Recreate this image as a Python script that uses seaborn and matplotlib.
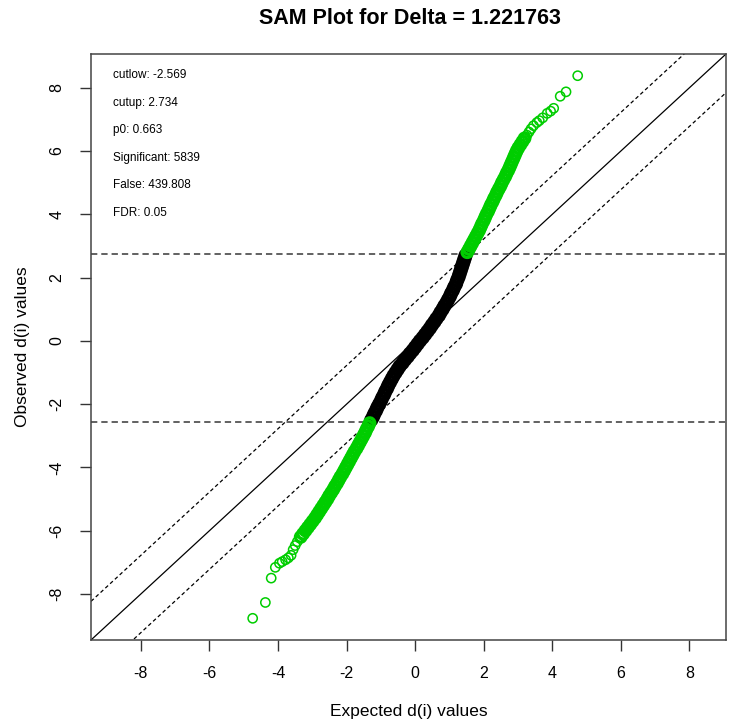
import numpy as np
import pandas as pd
import matplotlib
matplotlib.use("Agg")
import matplotlib.pyplot as plt
import seaborn as sns

# ---- data ----
delta = 1.221763
cutlow = -2.569
cutup = 2.734
info_labels = ["cutlow: -2.569", "cutup: 2.734", "p0: 0.663",
               "Significant: 5839", "False: 439.808", "FDR: 0.05"]

# lower significant tail (expected, observed)
low_tail_x = [-4.74, -4.37, -4.20, -4.08, -3.96, -3.88, -3.78, -3.70, -3.62, -3.56, -3.50, -3.44]
low_tail_y = [-8.77, -8.27, -7.50, -7.16, -7.03, -6.98, -6.92, -6.86, -6.78, -6.60, -6.47, -6.35]

# lower significant dense band
low_y = [-6.2, -6.1, -6.0, -5.9, -5.8, -5.7, -5.6, -5.5, -5.4, -5.3, -5.2, -5.1, -5.0,
         -4.9, -4.8, -4.7, -4.6, -4.5, -4.4, -4.3, -4.2, -4.1, -4.0, -3.9, -3.8, -3.7,
         -3.6, -3.5, -3.4, -3.3, -3.2, -3.1, -3.0, -2.9, -2.8, -2.7, -2.6]
low_x = [-3.34, -3.27, -3.20, -3.13, -3.06, -2.99, -2.92, -2.86, -2.80, -2.74, -2.68, -2.62, -2.56,
         -2.51, -2.45, -2.39, -2.34, -2.28, -2.23, -2.18, -2.12, -2.07, -2.02, -1.97, -1.92, -1.87,
         -1.82, -1.77, -1.71, -1.66, -1.61, -1.56, -1.51, -1.46, -1.42, -1.37, -1.33]

# non-significant band
mid_y = [-2.5, -2.4, -2.3, -2.2, -2.1, -2.0, -1.9, -1.8, -1.7, -1.6, -1.5, -1.4, -1.3, -1.2,
         -1.1, -1.0, -0.9, -0.8, -0.7, -0.6, -0.5, -0.4, -0.3, -0.2, -0.1, 0.0, 0.1, 0.2,
         0.3, 0.4, 0.5, 0.6, 0.7, 0.8, 0.9, 1.0, 1.1, 1.2, 1.3, 1.4, 1.5, 1.6, 1.7, 1.8,
         1.9, 2.0, 2.1, 2.2, 2.3, 2.4, 2.5, 2.6, 2.7]
mid_x = [-1.28, -1.23, -1.19, -1.14, -1.10, -1.05, -1.00, -0.96, -0.91, -0.87, -0.82, -0.78, -0.73, -0.68,
         -0.63, -0.57, -0.51, -0.45, -0.37, -0.30, -0.22, -0.15, -0.07, 0.00, 0.07, 0.14, 0.22, 0.29,
         0.36, 0.43, 0.49, 0.56, 0.62, 0.69, 0.74, 0.80, 0.85, 0.91, 0.96, 1.01, 1.05, 1.10, 1.14, 1.19,
         1.22, 1.26, 1.29, 1.32, 1.35, 1.38, 1.41, 1.44, 1.47]

# upper significant dense band
up_y = [2.8, 2.9, 3.0, 3.1, 3.2, 3.3, 3.4, 3.5, 3.6, 3.7, 3.8, 3.9, 4.0, 4.1, 4.2, 4.3, 4.4,
        4.5, 4.6, 4.7, 4.8, 4.9, 5.0, 5.1, 5.2, 5.3, 5.4, 5.5, 5.6, 5.7, 5.8, 5.9, 6.0,
        6.1, 6.2, 6.3, 6.4]
up_x = [1.52, 1.57, 1.62, 1.67, 1.72, 1.77, 1.82, 1.87, 1.91, 1.95, 2.00, 2.04, 2.08, 2.13, 2.17, 2.21, 2.26,
        2.30, 2.35, 2.39, 2.44, 2.49, 2.53, 2.58, 2.63, 2.67, 2.72, 2.76, 2.80, 2.84, 2.88, 2.92, 2.96,
        3.01, 3.07, 3.13, 3.19]

# upper significant tail
up_tail_x = [3.26, 3.32, 3.38, 3.45, 3.55, 3.62, 3.72, 3.85, 3.95, 4.04, 4.23, 4.40, 4.74]
up_tail_y = [6.50, 6.60, 6.70, 6.80, 6.90, 6.96, 7.05, 7.19, 7.26, 7.35, 7.73, 7.87, 8.38]

ticks = [-8, -6, -4, -2, 0, 2, 4, 6, 8]

# ---- build tables ----
df_tail = pd.DataFrame({"expected": low_tail_x + up_tail_x, "observed": low_tail_y + up_tail_y})
df_band = pd.DataFrame({"expected": low_x + up_x, "observed": low_y + up_y})
df_mid = pd.DataFrame({"expected": mid_x, "observed": mid_y})

sns.set_style("white")
plt.rcParams["font.family"] = ["Liberation Sans", "DejaVu Sans"]
plt.rcParams["text.color"] = "black"
plt.rcParams["axes.labelcolor"] = "black"
plt.rcParams["xtick.color"] = "black"
plt.rcParams["ytick.color"] = "black"

W, H = 733, 727
fig = plt.figure(figsize=(W / 100, H / 100), dpi=100)
ax = fig.add_axes([91 / W, (H - 640) / H, (726 - 91) / W, (640 - 54) / H])

allv = np.array(low_tail_x + up_tail_x + low_tail_y + up_tail_y + low_x + up_x + low_y + up_y + mid_x + mid_y)
lo, hi = allv.min(), allv.max()
pad = 0.04 * (hi - lo)
lim = (lo - pad, hi + pad)
ax.set_xlim(lim)
ax.set_ylim(lim)

# reference lines
xs = np.array(lim)
ax.plot(xs, xs, color="black", lw=0.9, zorder=1)
ax.plot(xs, xs + delta, color="black", lw=0.9, ls=(0, (3, 2.2)), zorder=1)
ax.plot(xs, xs - delta, color="black", lw=0.9, ls=(0, (3, 2.2)), zorder=1)
ax.axhline(cutup, color="#555555", lw=1.3, ls=(0, (3.5, 2.2)), zorder=1)
ax.axhline(cutlow, color="#555555", lw=1.3, ls=(0, (3.5, 2.2)), zorder=1)

green = "#00CD00"
sns.scatterplot(data=df_mid, x="expected", y="observed", ax=ax, marker="o", s=58,
                facecolor="none", edgecolor="black", linewidth=2.6, zorder=3)
sns.scatterplot(data=df_band, x="expected", y="observed", ax=ax, marker="o", s=56,
                facecolor="none", edgecolor=green, linewidth=2.4, zorder=3)
sns.scatterplot(data=df_tail, x="expected", y="observed", ax=ax, marker="o", s=44,
                facecolor="none", edgecolor=green, linewidth=1.1, zorder=3)

ax.set_xticks(ticks)
ax.set_yticks(ticks)
ax.set_xticklabels([str(t) for t in ticks], fontsize=11.5)
ax.set_yticklabels([str(t) for t in ticks], fontsize=11.5, rotation=90, va="center")
ax.tick_params(axis="both", direction="out", length=8, width=1, color="#333333",
               labelcolor="black", pad=11, bottom=True, left=True)
for sp in ax.spines.values():
    sp.set_color("#444444")
    sp.set_linewidth(1.1)

ax.set_xlabel("Expected d(i) values", fontsize=12.5, labelpad=16, color="black")
ax.set_ylabel("Observed d(i) values", fontsize=12.5, labelpad=14, color="black")

# info text
x_txt = lim[0] + 0.64
for i, lab in enumerate(info_labels):
    ax.text(x_txt, 8.40 - i * 0.872, lab, fontsize=8.5, ha="left", va="center", color="black")

fig.text(410 / W, 1 - 19 / H, "SAM Plot for Delta = 1.221763", ha="center", va="center",
         fontsize=15.5, fontweight="bold", color="black")

fig.savefig("out.png", dpi=100)
